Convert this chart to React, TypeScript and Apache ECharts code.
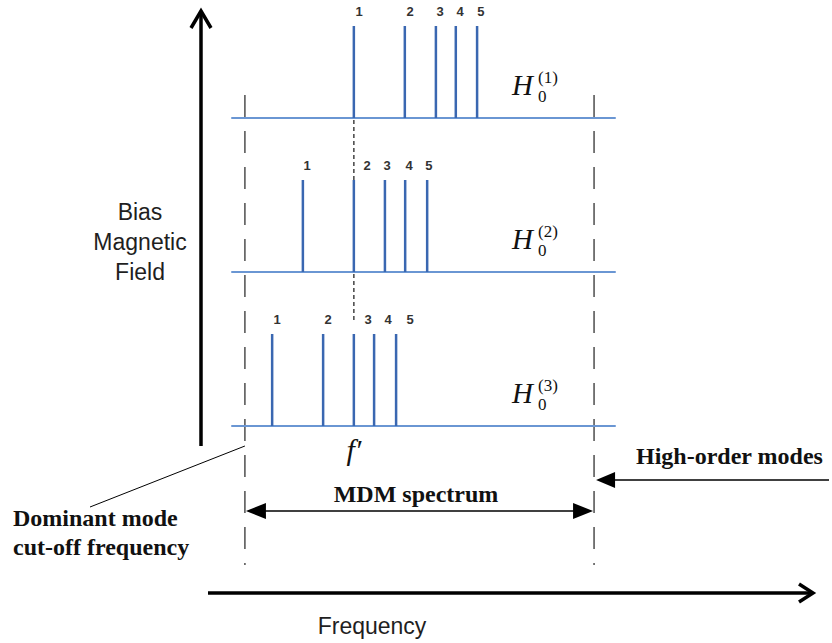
import React, { useEffect, useRef } from "react";
import * as echarts from "echarts";

// ---- data (frequency in arbitrary units: 0 = dominant-mode cut-off, 10 = onset of high-order modes)
const modeNumbers = ["1", "2", "3", "4", "5"];
const fieldLabels = ["(1)", "(2)", "(3)"];
const row1Freqs = [3.12, 4.58, 5.47, 6.04, 6.65];
const row2Freqs = [1.66, 3.12, 4.01, 4.59, 5.22];
const row3Freqs = [0.78, 2.24, 3.12, 3.7, 4.33];
const row1LabelFreqs = [3.27, 4.73, 5.59, 6.16, 6.76];
const row2LabelFreqs = [1.78, 3.5, 4.07, 4.7, 5.27];
const row3LabelFreqs = [0.92, 2.38, 3.53, 4.1, 4.73];
const cutoffFreq = 0;
const highOrderFreq = 10;
const fPrime = 3.12;
const amplitude = 1;

const rowsFreqs = [row1Freqs, row2Freqs, row3Freqs];
const rowsLabelFreqs = [row1LabelFreqs, row2LabelFreqs, row3LabelFreqs];

// ---- layout
const W = 832;
const H = 643;
const GRID_LEFT = 232;
const GRID_W = 383;
const XMIN = -0.37;
const XMAX = 10.6;
const ROW_BASE = [118, 272, 426];
const ROW_H = 92;
const SPEC_COLOR = "#3A67B1";
const BASE_COLOR = "#6A96D3";
const INK = "#111";

const fx = (f: number) => GRID_LEFT + ((f - XMIN) / (XMAX - XMIN)) * GRID_W;

function txt(x: number, y: number, text: string, font: string, align = "center", fill = INK, extra: any = {}) {
  return {
    type: "text",
    x,
    y,
    silent: true,
    style: {
      text,
      font,
      fill,
      align,
      textAlign: align,
      verticalAlign: "middle",
      textVerticalAlign: "middle",
      ...extra,
    },
  };
}

export default function App() {
  const ref = useRef<HTMLDivElement>(null);
  useEffect(() => {
    if (!ref.current) return;
    const chart = echarts.init(ref.current, null, { renderer: "svg" });

    const grids = ROW_BASE.map((b) => ({ left: GRID_LEFT, width: GRID_W, top: b - ROW_H, height: ROW_H }));
    const xAxes = ROW_BASE.map((_, i) => ({
      type: "value",
      gridIndex: i,
      min: XMIN,
      max: XMAX,
      axisLine: { show: true, onZero: false, lineStyle: { color: BASE_COLOR, width: 2 } },
      axisTick: { show: false },
      axisLabel: { show: false },
      splitLine: { show: false },
    }));
    const yAxes = ROW_BASE.map((_, i) => ({
      type: "value",
      gridIndex: i,
      min: 0,
      max: 1,
      show: false,
    }));

    const series: any[] = [];
    rowsFreqs.forEach((freqs, i) => {
      series.push({
        type: "custom",
        name: "modes" + (i + 1),
        xAxisIndex: i,
        yAxisIndex: i,
        data: freqs.map((f) => [f, amplitude]),
        renderItem: (params: any, api: any) => {
          const p0 = api.coord([api.value(0), 0]);
          const p1 = api.coord([api.value(0), api.value(1)]);
          return {
            type: "line",
            shape: { x1: p0[0], y1: p0[1], x2: p1[0], y2: p1[1] },
            style: { stroke: SPEC_COLOR, lineWidth: 2.5 },
          };
        },
      });
      series.push({
        type: "custom",
        name: "labels" + (i + 1),
        xAxisIndex: i,
        yAxisIndex: i,
        data: rowsLabelFreqs[i].map((f) => [f, amplitude]),
        renderItem: (params: any, api: any) => {
          const p = api.coord([api.value(0), api.value(1)]);
          return {
            type: "text",
            x: p[0],
            y: p[1] - 15,
            style: {
              text: modeNumbers[params.dataIndex],
              font: "bold 13px 'Liberation Sans', Arial, sans-serif",
              fill: "#333",
              align: "center",
              textAlign: "center",
              verticalAlign: "middle",
              textVerticalAlign: "middle",
            },
          };
        },
      });
    });

    const serifBold = "bold 24px 'Liberation Serif', 'Times New Roman', serif";
    const sans = "23px 'Liberation Sans', Arial, sans-serif";
    const serifItalic = "italic 29px 'Liberation Serif', 'Times New Roman', serif";
    const serifSmall = "17px 'Liberation Serif', 'Times New Roman', serif";
    const xCut = fx(cutoffFreq);
    const xHigh = fx(highOrderFreq);
    const xF = fx(fPrime);

    const graphic: any[] = [
      // vertical (bias field) arrow
      { type: "line", silent: true, shape: { x1: 201, y1: 446, x2: 201, y2: 12 }, style: { stroke: "#000", lineWidth: 3.5 } },
      { type: "polyline", silent: true, shape: { points: [[191, 28], [201, 11], [211, 28]] }, style: { stroke: "#000", lineWidth: 3.5, fill: "none" } },
      // frequency arrow
      { type: "line", silent: true, shape: { x1: 208, y1: 593, x2: 811, y2: 593 }, style: { stroke: "#000", lineWidth: 3.5 } },
      { type: "polyline", silent: true, shape: { points: [[799, 584], [813, 593], [799, 602]] }, style: { stroke: "#000", lineWidth: 3.5, fill: "none" } },
      // dashed boundaries
      { type: "line", silent: true, shape: { x1: xCut, y1: 95, x2: xCut, y2: 565 }, style: { stroke: "#333", lineWidth: 1.3, lineDash: [22, 14] } },
      { type: "line", silent: true, shape: { x1: xHigh, y1: 95, x2: xHigh, y2: 565 }, style: { stroke: "#333", lineWidth: 1.3, lineDash: [22, 14] } },
      // f' dotted guides
      { type: "line", silent: true, shape: { x1: xF, y1: ROW_BASE[0] + 2, x2: xF, y2: ROW_BASE[1] - ROW_H }, style: { stroke: "#444", lineWidth: 1.5, lineDash: [4, 3] } },
      { type: "line", silent: true, shape: { x1: xF, y1: ROW_BASE[1] + 2, x2: xF, y2: ROW_BASE[2] - ROW_H - 12 }, style: { stroke: "#444", lineWidth: 1.5, lineDash: [4, 3] } },
      // leader line
      { type: "line", silent: true, shape: { x1: xCut, y1: 446, x2: 90, y2: 507 }, style: { stroke: "#000", lineWidth: 1 } },
      // high-order modes arrow
      { type: "line", silent: true, shape: { x1: 829, y1: 480, x2: xHigh + 16, y2: 480 }, style: { stroke: "#000", lineWidth: 1.5 } },
      { type: "polygon", silent: true, shape: { points: [[xHigh + 2, 480], [xHigh + 21, 472], [xHigh + 21, 488]] }, style: { fill: "#000" } },
      // MDM spectrum double arrow
      { type: "line", silent: true, shape: { x1: xCut + 10, y1: 511, x2: xHigh - 10, y2: 511 }, style: { stroke: "#000", lineWidth: 1.5 } },
      { type: "polygon", silent: true, shape: { points: [[xCut + 1, 511], [xCut + 21, 503], [xCut + 21, 519]] }, style: { fill: "#000" } },
      { type: "polygon", silent: true, shape: { points: [[xHigh - 1, 511], [xHigh - 21, 503], [xHigh - 21, 519]] }, style: { fill: "#000" } },
      // texts
      txt(140, 242, "Bias\nMagnetic\nField", sans, "center", "#1f1f1f", { lineHeight: 30 }),
      txt(372, 626, "Frequency", sans, "center", "#1f1f1f"),
      txt(416, 494, "MDM spectrum", serifBold),
      txt(636, 456, "High-order modes", serifBold, "left"),
      txt(13, 518, "Dominant mode", serifBold, "left"),
      txt(13, 547, "cut-off frequency", serifBold, "left"),
      txt(xF, 449, "f\u2032", "italic 30px 'Liberation Serif', 'Times New Roman', serif", "center", "#111"),
    ];
    ROW_BASE.forEach((b, i) => {
      graphic.push(txt(512, b - 33, "H", serifItalic, "left"));
      graphic.push(txt(538, b - 40.5, fieldLabels[i], serifSmall, "left", INK, { lineHeight: 17 }));
      graphic.push(txt(538, b - 21.5, "0", serifSmall, "left", INK, { lineHeight: 17 }));
    });

    chart.setOption({
      animation: false,
      backgroundColor: "#fff",
      grid: grids,
      xAxis: xAxes,
      yAxis: yAxes,
      series,
      graphic,
    });
    return () => chart.dispose();
  }, []);
  return (
    <div
      ref={ref}
      style={{ position: "fixed", left: 0, top: 0, width: W, height: H, background: "#fff" }}
    />
  );
}
